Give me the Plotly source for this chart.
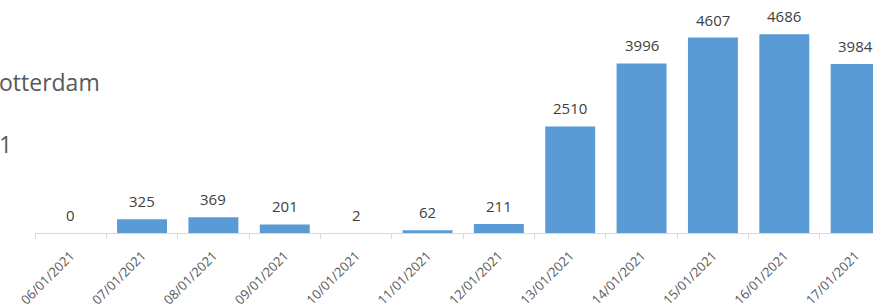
import plotly.graph_objects as go

dates = ["06/01/2021", "07/01/2021", "08/01/2021", "09/01/2021", "10/01/2021",
         "11/01/2021", "12/01/2021", "13/01/2021", "14/01/2021", "15/01/2021",
         "16/01/2021", "17/01/2021"]
values = [0, 325, 369, 201, 2, 62, 211, 2510, 3996, 4607, 4686, 3984]
title_lines = ["otterdam", "1"]

BAR = "#5b9bd5"
LABEL = "#404040"
GRAY = "#595959"
FONT = "Open Sans"

PLOT_W = 838
PLOT_H = 235

fig = go.Figure()
fig.add_trace(go.Bar(x=dates, y=values, marker=dict(color=BAR, line=dict(width=0)),
                     hoverinfo="skip"))

for d, v in zip(dates, values):
    fig.add_annotation(x=d, y=v, text=str(v), showarrow=False, yanchor="bottom",
                       yshift=6, font=dict(family=FONT, size=15, color=LABEL))

fig.add_annotation(xref="paper", yref="paper", x=-38 / PLOT_W, y=(PLOT_H - 83) / PLOT_H,
                   xanchor="left", yanchor="middle", text=title_lines[0], showarrow=False,
                   font=dict(family=FONT, size=23, color=GRAY))
fig.add_annotation(xref="paper", yref="paper", x=-38.5 / PLOT_W, y=(PLOT_H - 145) / PLOT_H,
                   xanchor="left", yanchor="middle", text=title_lines[1], showarrow=False,
                   font=dict(family=FONT, size=23, color=GRAY))

fig.update_layout(
    width=873, height=308,
    margin=dict(l=35, r=0, t=0, b=73),
    paper_bgcolor="white", plot_bgcolor="white",
    bargap=0.3, showlegend=False, hovermode=False,
    xaxis=dict(type="category", range=[-0.5, 11.243], showgrid=False,
               showline=True, linecolor="#d9d9d9", linewidth=1,
               ticks="outside", tickson="boundaries", ticklen=5, tickcolor="#d9d9d9",
               tickangle=-45, ticklabelstandoff=9,
               tickfont=dict(family=FONT, size=13, color=GRAY),
               fixedrange=True),
    yaxis=dict(range=[0, PLOT_H / 0.0428], visible=False, showgrid=False, zeroline=False,
               fixedrange=True),
)

fig.write_html("out.html", config={"displayModeBar": False, "staticPlot": True},
               post_script="document.body.style.margin='0';document.body.style.overflow='hidden';")
